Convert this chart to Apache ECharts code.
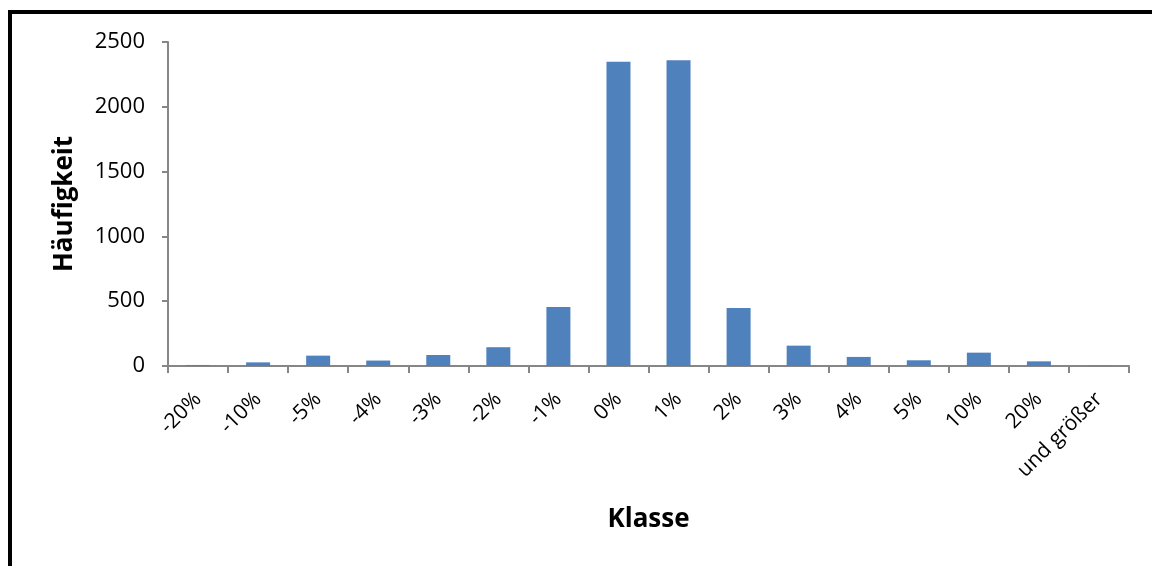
<!DOCTYPE html>
<html><head><meta charset="utf-8">
<script src="https://cdn.jsdelivr.net/npm/echarts@6/dist/echarts.min.js"></script>
<style>
html,body{margin:0;padding:0;background:#fff;}
#frame{position:absolute;left:8px;top:10px;width:1160px;height:580px;border-top:4px solid #000;border-left:4px solid #000;box-sizing:border-box;}
#chart{position:absolute;left:0;top:0;width:1152px;height:566px;}
</style></head>
<body>
<div id="frame"></div>
<div id="chart"></div>
<script>
const categories = ['-20%','-10%','-5%','-4%','-3%','-2%','-1%','0%','1%','2%','3%','4%','5%','10%','20%','und größer'];
const frequencies = [8, 28, 80, 42, 85, 145, 455, 2348, 2360, 448, 157, 70, 44, 103, 36, 2];
const yTicks = {min: 0, max: 2500, interval: 500};
const xTitle = 'Klasse';
const yTitle = 'Häufigkeit';

const chart = echarts.init(document.getElementById('chart'), null, {renderer: 'canvas'});
const font = 'Open Sans';
chart.setOption({
  animation: false,
  grid: {left: 168, top: 42, right: 23, bottom: 200, containLabel: false},
  xAxis: {
    type: 'category', data: categories,
    name: xTitle, nameLocation: 'middle', nameGap: 141,
    nameTextStyle: {fontFamily: font, fontWeight: 'bold', fontSize: 26, color: '#000'},
    axisLine: {lineStyle: {color: '#868686', width: 2}},
    axisTick: {show: true, alignWithLabel: false, length: 7, lineStyle: {color: '#868686', width: 2}},
    axisLabel: {rotate: 45, fontFamily: font, fontSize: 21, color: '#000', margin: 30, interval: 0}
  },
  yAxis: {
    type: 'value', min: yTicks.min, max: yTicks.max, interval: yTicks.interval,
    name: yTitle, nameLocation: 'middle', nameGap: 90, nameRotate: 90,
    nameTextStyle: {fontFamily: font, fontWeight: 'bold', fontSize: 26, color: '#000'},
    axisLine: {show: true, lineStyle: {color: '#868686', width: 2}},
    axisTick: {show: true, length: 6, lineStyle: {color: '#868686', width: 2}},
    axisLabel: {fontFamily: font, fontSize: 22, color: '#000', margin: 23, formatter: v => String(v)},
    splitLine: {show: false}
  },
  series: [{
    type: 'bar', data: frequencies, barWidth: 24,
    itemStyle: {color: '#4F81BD'}
  }]
});
</script>
</body></html>
